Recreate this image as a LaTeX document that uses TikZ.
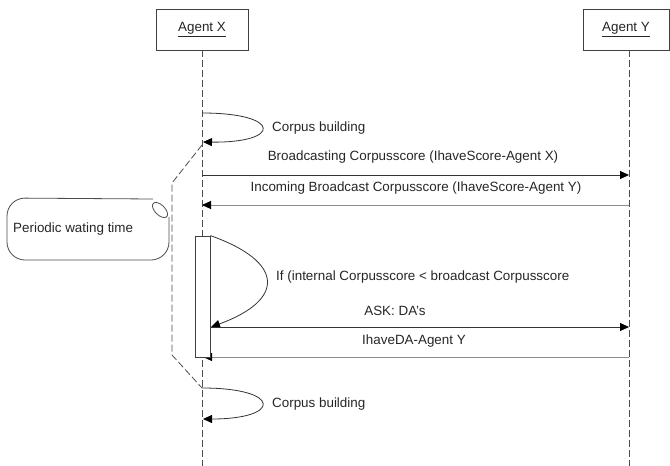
\documentclass[tikz,border=0pt]{standalone}
\usepackage{fontspec}
\setmainfont{Liberation Sans}
\usetikzlibrary{arrows.meta}

\begin{document}
\begin{tikzpicture}[x=1pt,y=-1pt,
  every node/.style={font=\fontsize{13.4}{16}\selectfont, text=black!85, inner sep=0pt},
  actor/.style={draw=black!75, fill=white, line width=0.8pt, minimum height=41pt},
  lifeline/.style={draw=black!70, dash pattern=on 7pt off 3pt, line width=0.8pt},
  tip/.style={-{Triangle[length=9pt,width=8pt,color=black]}},
  msg/.style={tip, draw=black!80, line width=0.8pt},
  reply/.style={tip, draw=black!45, line width=1pt},
  selfloop/.style={tip, draw=black!80, line width=0.8pt},
  activation/.style={draw=black!75, fill=white, line width=0.8pt, minimum width=15pt, minimum height=121pt},
  label/.style={anchor=center}
]
\useasboundingbox (0,0) rectangle (670,466);

% actors and lifelines
\node[actor, minimum width=92pt] (ax) at (202,29.5) {\underline{Agent X}};
\node[actor, minimum width=86pt] (ay) at (626,29.5) {\underline{Agent Y}};
\coordinate (ytop) at (629,50);
\coordinate (xbot) at (202,466);
\coordinate (ybot) at (629,466);
\draw[lifeline] (ax.south) -- (xbot);
\draw[lifeline] (ytop) -- (ybot);

% first corpus building
\coordinate (c1a) at (202,113);
\coordinate (c1b) at (203,142);
\draw[selfloop] (c1a) .. controls (282,113) and (282,143) .. (c1b);
\node[anchor=west] (c1l) at (272,128) {Corpus building};

% broadcasts
\coordinate (bx) at (202,175);
\coordinate (by) at (629,175);
\draw[msg] (bx) -- (by);
\node[label] (bl) at (413,157) {Broadcasting Corpusscore (IhaveScore-Agent X)};
\coordinate (ix) at (202,205);
\coordinate (iy) at (629,205);
\draw[reply] (iy) -- (ix);
\node[label] (il) at (416,188) {Incoming Broadcast Corpusscore (IhaveScore-Agent Y)};

% periodic waiting bracket
\coordinate (p0) at (202,145);
\coordinate (p1) at (172,183);
\coordinate (p2) at (172,355);
\coordinate (p3) at (202,388);
\draw[lifeline] (p0) -- (p1) -- (p2) -- (p3);

% note
\draw[black!70, line width=0.8pt, rounded corners=18pt]
  (153,199) -- (7,198) -- (7,260) -- (169,260) -- (169,217);
\draw[black!70, line width=0.8pt, shift={(160,210)}, rotate=-45] (0,0) ellipse [x radius=9.5, y radius=5];
\node[anchor=west] (note) at (13,229) {Periodic wating time};

% request / reply exchange
\coordinate (dy) at (629,357);
\coordinate (dx) at (203,357);
\draw[reply] (dy) -- (dx);
\node[label] (dl) at (414,341) {IhaveDA-Agent Y};
\node[activation] (act) at (202.5,296.5) {};
\coordinate (q0) at (211,327);
\draw[selfloop] (act.north east) .. controls (285,262) and (285,300) .. (q0);
\node[anchor=west] (ql) at (276,277) {If (internal Corpusscore < broadcast Corpusscore};
\coordinate (ay2) at (629,327);
\draw[msg] (q0) -- (ay2);
\node[label] (al) at (395,311) {ASK: DA's};

% second corpus building
\coordinate (c2a) at (202,388);
\coordinate (c2b) at (203,419);
\draw[selfloop] (c2a) .. controls (282,388) and (282,419) .. (c2b);
\node[anchor=west] (c2l) at (272,404) {Corpus building};
\end{tikzpicture}
\end{document}
